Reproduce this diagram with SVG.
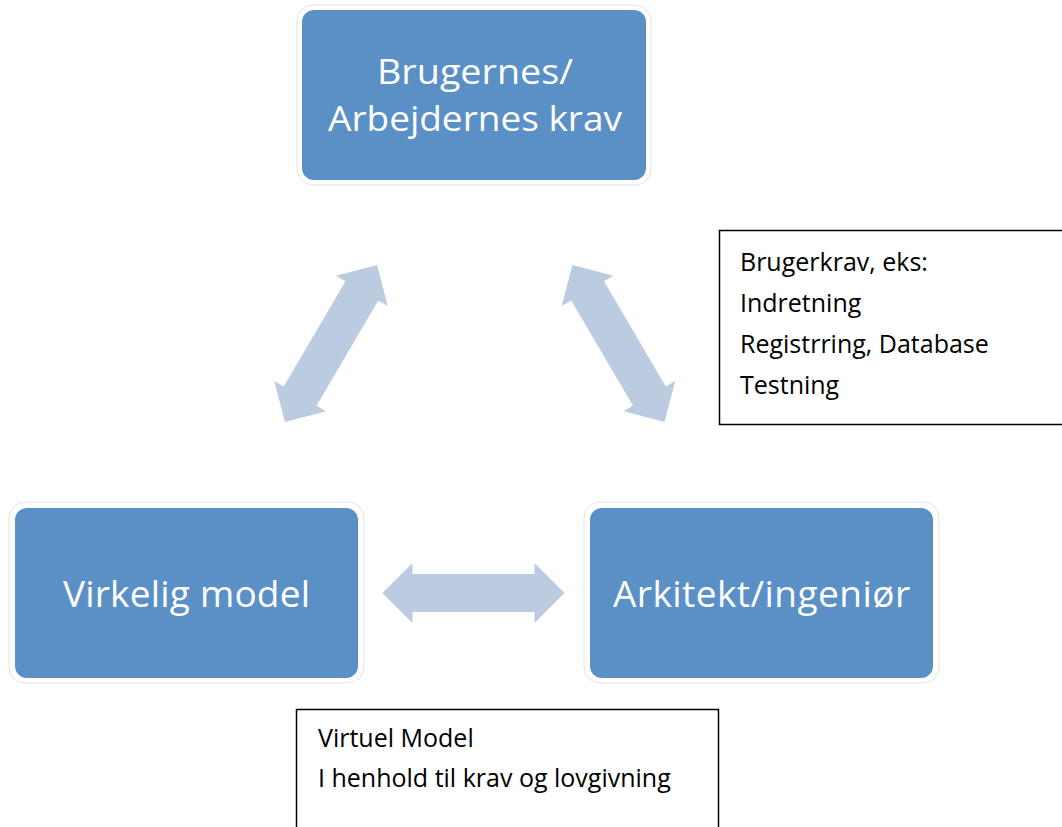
<svg xmlns="http://www.w3.org/2000/svg" width="1062" height="827" viewBox="0 0 1062 827">
<style>
.outer{fill:#fff;stroke:#e3e3e3;stroke-width:1}
.box{fill:#5B90C6}
.lbl{font-family:"Open Sans","Noto Sans","Liberation Sans",sans-serif;font-size:37px;fill:#fff;text-anchor:middle}
.lbl2{font-size:34px}
.note{fill:#fff;stroke:#000;stroke-width:1.5}
.nt{font-family:"Open Sans","Noto Sans","Liberation Sans",sans-serif;font-size:25px;fill:#000}
.arr{fill:#BBCBE0}
</style>
<defs>
<path id="dbl" d="M -91,0 L -61,-30 L -61,-19 L 61,-19 L 61,-30 L 91,0 L 61,30 L 61,19 L -61,19 L -61,30 Z"/>
</defs>
<rect width="1062" height="827" fill="#fff"/>
<g id="connectors" class="arr">
<use href="#dbl" transform="translate(331,343.5) rotate(-59.6)"/>
<use href="#dbl" transform="translate(618.5,343.5) rotate(59.6)"/>
<use href="#dbl" transform="translate(473.5,593)"/>
</g>
<g id="node-brugernes">
<rect class="outer" x="297" y="5" width="354" height="180" rx="16"/>
<rect class="box" x="302" y="10" width="344" height="170" rx="12"/>
<text class="lbl lbl2" x="475" y="84" textLength="196" lengthAdjust="spacingAndGlyphs">Brugernes/</text>
<text class="lbl lbl2" x="475" y="131" textLength="294" lengthAdjust="spacingAndGlyphs">Arbejdernes krav</text>
</g>
<g id="node-virkelig">
<rect class="outer" x="9" y="502" width="355" height="181" rx="16"/>
<rect class="box" x="15" y="508" width="343" height="170" rx="12"/>
<text class="lbl" x="186.5" y="607" textLength="247">Virkelig model</text>
</g>
<g id="node-arkitekt">
<rect class="outer" x="584" y="502" width="355" height="181" rx="16"/>
<rect class="box" x="590" y="508" width="343" height="170" rx="12"/>
<text class="lbl" x="761.5" y="607" textLength="297">Arkitekt/ingeniør</text>
</g>
<g id="note-brugerkrav">
<rect class="note" x="719.5" y="230.5" width="360" height="194"/>
<text class="nt" x="740" y="271">Brugerkrav, eks:</text>
<text class="nt" x="740" y="312">Indretning</text>
<text class="nt" x="740" y="353">Registrring, Database</text>
<text class="nt" x="740" y="394">Testning</text>
</g>
<g id="note-virtuel">
<rect class="note" x="296.5" y="709.5" width="422" height="140"/>
<text class="nt" x="318" y="747">Virtuel Model</text>
<text class="nt" x="318" y="787">I henhold til krav og lovgivning</text>
</g>
</svg>
